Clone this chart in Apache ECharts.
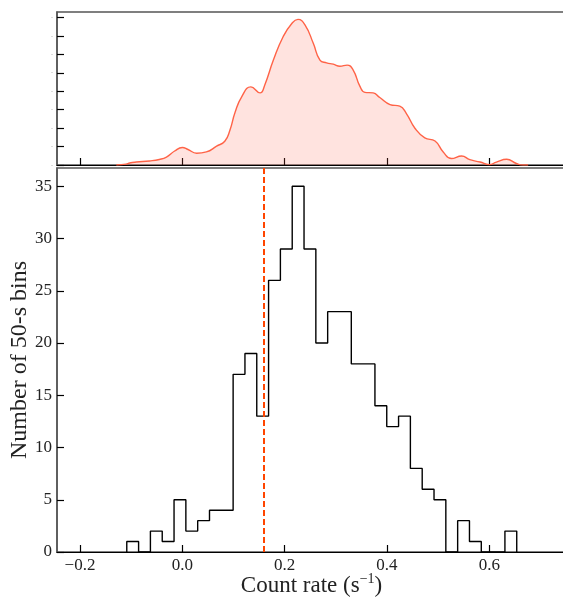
<!DOCTYPE html>
<html>
<head>
<meta charset="utf-8">
<script src="https://cdn.jsdelivr.net/npm/echarts@6/dist/echarts.min.js"></script>
<style>
html, body { margin: 0; padding: 0; background: #fff; }
#main { width: 563px; height: 598px; }
</style>
</head>
<body>
<div id="main"></div>
<script>
// histogram of count rates: bin edges (s^-1) and number of 50-s bins in each
var bin_edges = [-0.1086, -0.0855, -0.0624, -0.0393, -0.0162, 0.0069, 0.0300, 0.0531, 0.0762,
    0.0993, 0.1224, 0.1455, 0.1686, 0.1917, 0.2148, 0.2379, 0.2610, 0.2841, 0.3072, 0.3303,
    0.3534, 0.3765, 0.3996, 0.4227, 0.4458, 0.4689, 0.4920, 0.5151, 0.5382, 0.5613, 0.5844,
    0.6075, 0.6306, 0.6537];
var bin_counts = [1, 0, 2, 1, 5, 2, 3, 4, 4, 17, 19, 13, 26, 29, 35, 29, 20, 23, 23, 18,
    18, 14, 12, 13, 8, 6, 5, 0, 3, 1, 0, 0, 2];
var mean_rate = 0.158; // dashed line

// smoothed density (upper panel)
var kde_x = [-0.129, -0.110, -0.103, -0.090, -0.064, -0.045, -0.031, -0.015, 0.000, 0.011,
    0.028, 0.047, 0.067, 0.083, 0.093, 0.103, 0.116, 0.134, 0.152, 0.161, 0.178, 0.197,
    0.214, 0.226, 0.240, 0.256, 0.269, 0.282, 0.295, 0.308, 0.322, 0.334, 0.347, 0.357,
    0.373, 0.386, 0.406, 0.425, 0.438, 0.455, 0.474, 0.494, 0.510, 0.526, 0.546, 0.562,
    0.582, 0.600, 0.614, 0.634, 0.653, 0.666, 0.676];
var kde_y = [0.00, 0.05, 0.11, 0.16, 0.22, 0.30, 0.43, 0.76, 0.95, 0.84,
    0.64, 0.71, 1.02, 1.29, 1.89, 2.85, 3.70, 4.24, 3.91, 4.33, 5.69, 6.96,
    7.68, 7.90, 7.59, 6.60, 5.69, 5.54, 5.47, 5.36, 5.42, 5.15, 4.28, 3.94,
    3.91, 3.66, 3.28, 3.19, 2.79, 1.98, 1.47, 1.30, 0.71, 0.35, 0.49, 0.29,
    0.16, 0.02, 0.16, 0.31, 0.08, 0.00, 0.00];

var x_ticks = [-0.2, 0, 0.2, 0.4, 0.6];
var count_ticks = [0, 5, 10, 15, 20, 25, 30, 35];
var density_ticks = [0, 1, 2, 3, 4, 5, 6, 7, 8];

var serif = 'Liberation Serif';

const Chart = echarts.init(document.getElementById('main'), null, { renderer: 'canvas' });

// step outline: start on the baseline, close back down after the last bin
var hist_data = [[bin_edges[0], 0]];
bin_counts.forEach((c, i) => {
    hist_data.push([bin_edges[i], c]);
});
hist_data.push([bin_edges[bin_edges.length - 1], 0]);

var kde_data = kde_x.map((x, i) => [x, kde_y[i]]);

function rate_label(v) {
    return (v < 0 ? '\u2212' : '') + Math.abs(v).toFixed(1);
}

var tick_style = { color: '#000', width: 1.2 };

var option = {
    animation: false,
    grid: [
        { left: 57, top: 12, width: 509, height: 153, show: true, borderColor: '#555', borderWidth: 1.5, outerBoundsMode: 'none' },
        { left: 57, top: 168, width: 509, height: 384, show: true, borderColor: '#555', borderWidth: 1.5, outerBoundsMode: 'none' }
    ],
    xAxis: [{
        gridIndex: 0,
        type: 'value',
        min: -0.245,
        max: 0.75,
        axisLine: { show: true, onZero: false, lineStyle: { color: '#000', width: 1.2 } },
        axisTick: { show: true, inside: true, length: 7, customValues: x_ticks, lineStyle: tick_style },
        axisLabel: { show: false },
        splitLine: { show: false }
    }, {
        gridIndex: 1,
        type: 'value',
        min: -0.245,
        max: 0.75,
        axisLine: { show: true, onZero: false, lineStyle: { color: '#000', width: 1.2 } },
        axisTick: { show: true, inside: true, length: 7, customValues: x_ticks, lineStyle: tick_style },
        axisLabel: {
            customValues: x_ticks,
            formatter: rate_label,
            fontFamily: serif,
            fontSize: 17,
            color: '#222',
            margin: 5
        },
        splitLine: { show: false },
        name: 'Count rate (s{sup|\u22121})',
        nameLocation: 'middle',
        nameMoveOverlap: false,
        nameGap: 20,
        nameTextStyle: {
            fontFamily: serif,
            fontSize: 23,
            lineHeight: 28,
            color: '#222',
            rich: {
                sup: { fontFamily: serif, fontSize: 14, color: '#222', verticalAlign: 'top' }
            }
        }
    }],
    yAxis: [{
        gridIndex: 0,
        type: 'value',
        min: 0,
        max: 8.3,
        axisLine: { show: true, onZero: false, lineStyle: { color: '#555', width: 1.5 } },
        axisTick: { show: true, inside: true, length: 7, customValues: density_ticks, lineStyle: tick_style },
        axisLabel: {
            customValues: density_ticks,
            formatter: () => '-',
            fontSize: 6,
            color: '#aaa',
            margin: 4
        },
        splitLine: { show: false }
    }, {
        gridIndex: 1,
        type: 'value',
        min: 0,
        max: 36.75,
        axisLine: { show: true, onZero: false, lineStyle: { color: '#555', width: 1.5 } },
        axisTick: { show: true, inside: true, length: 7, customValues: count_ticks, lineStyle: tick_style },
        axisLabel: {
            customValues: count_ticks,
            fontFamily: serif,
            fontSize: 17,
            color: '#222',
            margin: 5
        },
        splitLine: { show: false },
        name: 'Number of 50-s bins',
        nameLocation: 'middle',
        nameRotate: 90,
        nameMoveOverlap: false,
        nameGap: 25,
        nameTextStyle: { fontFamily: serif, fontSize: 24, color: '#222' }
    }],
    series: [{
        type: 'line',
        xAxisIndex: 0,
        yAxisIndex: 0,
        data: kde_data,
        smooth: 0.5,
        showSymbol: false,
        lineStyle: { color: '#ff6347', width: 1.4 },
        areaStyle: { color: 'rgba(255, 99, 71, 0.25)' }
    }, {
        type: 'line',
        xAxisIndex: 1,
        yAxisIndex: 1,
        data: hist_data,
        step: 'end',
        showSymbol: false,
        lineStyle: { color: '#000', width: 1.4 },
        markLine: {
            silent: true,
            symbol: ['none', 'none'],
            label: { show: false },
            lineStyle: { color: '#ff4500', type: [6, 3], width: 2 },
            data: [{ xAxis: mean_rate }]
        }
    }]
};
Chart.setOption(option);
</script>
</body>
</html>
